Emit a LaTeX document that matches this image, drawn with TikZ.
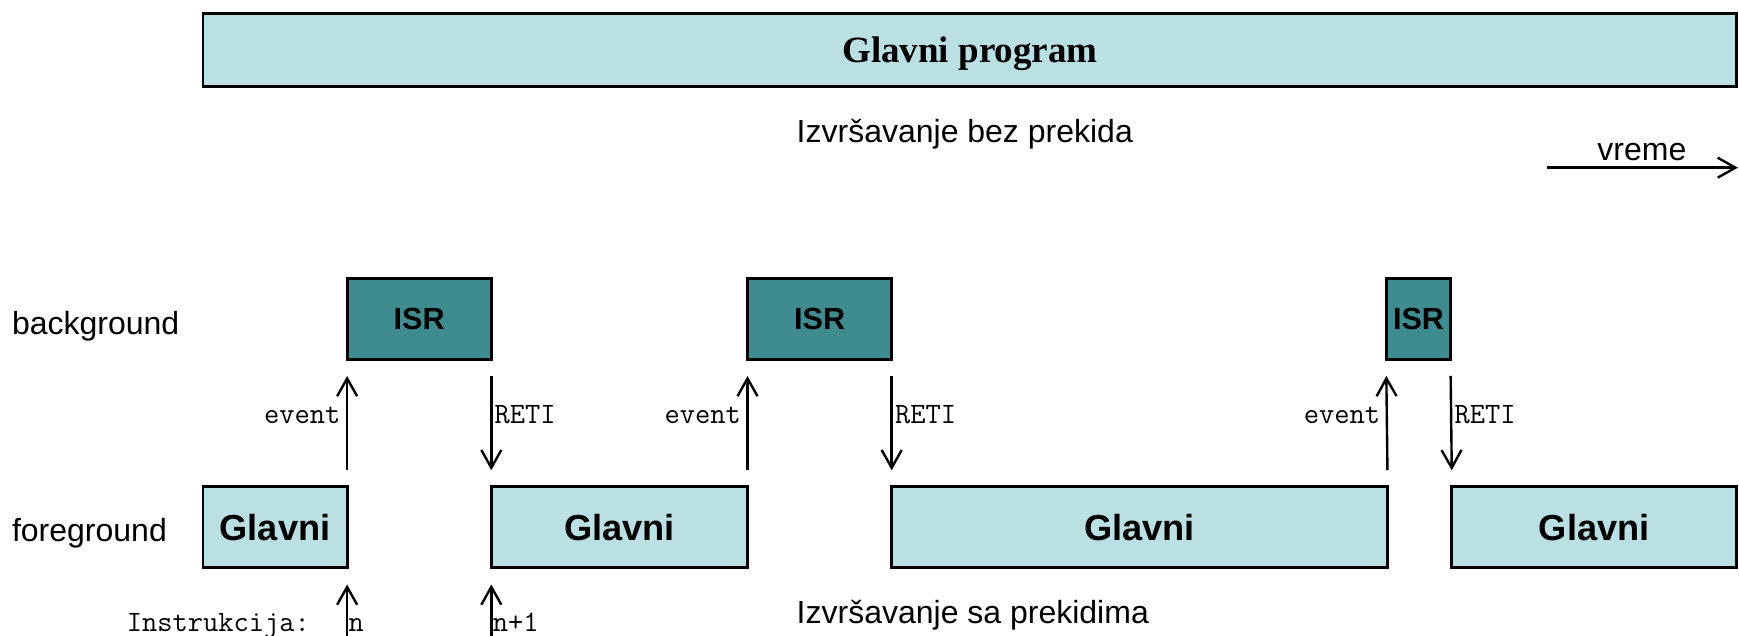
\documentclass[tikz,border=0pt]{standalone}
\usepackage{fontspec}
\setmainfont{Liberation Sans}
\newfontfamily\tnr{Liberation Serif}
\usetikzlibrary{arrows.meta}
\newcommand\rpx{0.5545pt}
\definecolor{lightbox}{HTML}{BAE0E3}
\definecolor{darkbox}{HTML}{3E8B90}
\begin{document}
\begin{tikzpicture}[x=0.5545pt,y=-0.5545pt,
  blk/.style 2 args={draw=black, line width=1.4pt, inner sep=0pt, outer sep=0pt,
    anchor=north west, minimum width=#1*0.5545pt, minimum height=#2*0.5545pt},
  mainbox/.style={blk={#1}{73}, fill=lightbox, font=\fontsize{18.1}{20}\selectfont\bfseries},
  isrbox/.style={blk={#1}{73}, fill=darkbox, font=\fontsize{15.3}{18}\selectfont\bfseries},
  lbl/.style={anchor=base west, inner sep=0pt, font=\fontsize{16}{19}\selectfont},
  code/.style={inner sep=0pt, font=\fontsize{14.8}{17}\ttfamily},
  arr/.style={line width=1.2pt, -{Straight Barb[length=8.9pt,width=10pt]}},
  evlbl/.style={code, anchor=base east, xshift=-5*0.5545pt},
  retlbl/.style={code, anchor=base west, xshift=2*0.5545pt}]
\useasboundingbox (0,0) rectangle (1568,573);

% uninterrupted execution
\node[blk={1383}{66}, fill=lightbox, text depth=0pt,
  font=\fontsize{18.5}{21}\tnr\bfseries] (prog) at (183,12) {Glavni program};
\node[lbl] (bez) at (718,128.7) {Izvršavanje bez prekida};

% time axis
\coordinate (t0) at (1394.6,151.2);
\coordinate (t1) at (1567,151.2);
\draw[arr] (t0) -- (t1);
\node[lbl] (vreme) at (1440,144.3) {vreme};

% level labels
\node[lbl] (bg) at (10.5,302) {background};
\node[lbl] (fg) at (10.5,488.4) {foreground};

% interrupt service routines
\node[isrbox={130}] (isr1) at (313,251) {ISR};
\node[isrbox={130}] (isr2) at (674,251) {ISR};
\node[isrbox={58}] (isr3) at (1250,251) {ISR};

% main program slices
\node[mainbox={130}] (g1) at (183,439) {Glavni};
\node[mainbox={231}] (g2) at (443,439) {Glavni};
\node[mainbox={447}] (g3) at (804,439) {Glavni};
\node[mainbox={257}] (g4) at (1309,439) {Glavni};

% events and returns
\draw[arr] ([yshift=15*\rpx]g1.north east) -- node[evlbl] {event} ([yshift=-15*\rpx]isr1.south west);
\draw[arr] ([yshift=-15*\rpx]isr1.south east) -- node[retlbl] {RETI} ([yshift=15*\rpx]g2.north west);
\draw[arr] ([yshift=15*\rpx]g2.north east) -- node[evlbl] {event} ([yshift=-15*\rpx]isr2.south west);
\draw[arr] ([yshift=-15*\rpx]isr2.south east) -- node[retlbl] {RETI} ([yshift=15*\rpx]g3.north west);
\draw[arr] ([yshift=15*\rpx]g3.north east) -- node[evlbl] {event} ([yshift=-15*\rpx]isr3.south west);
\draw[arr] ([yshift=-15*\rpx]isr3.south east) -- node[retlbl] {RETI} ([yshift=15*\rpx]g4.north west);

% instruction markers
\coordinate (n0) at (313,574);
\coordinate (n1) at (443,574);
\draw[arr] (n0) -- ([yshift=-15*\rpx]g1.south east);
\draw[arr] (n1) -- ([yshift=-15*\rpx]g2.south west);
\node[code, anchor=base west] (instr) at (114,569.6) {Instrukcija:};
\node[code, anchor=base west] (nlbl) at (314,569.6) {n};
\node[code, anchor=base west] (n1lbl) at (444,569.6) {n+1};

\node[lbl] (sa) at (718,562) {Izvršavanje sa prekidima};
\end{tikzpicture}
\end{document}
